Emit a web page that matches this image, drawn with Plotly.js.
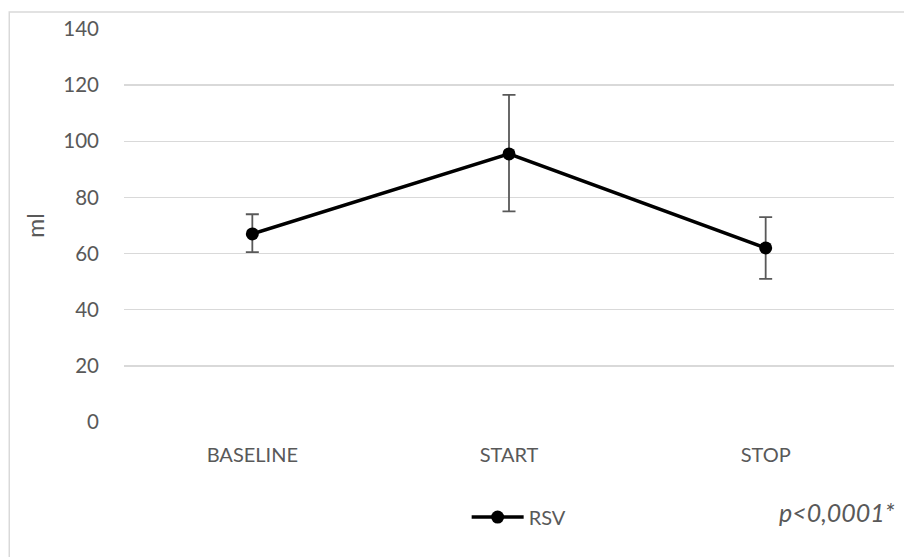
<!DOCTYPE html>
<html>
<head>
<meta charset="utf-8">
<script src="https://cdn.plot.ly/plotly-3.0.1.min.js"></script>
<style>
  html, body { margin: 0; padding: 0; background: #fff; }
  #chart { width: 904px; height: 557px; }
</style>
</head>
<body>
<div id="chart"></div>
<script>
// RSV volume (ml) at the three measurement points, mean with error range
const phases = ['BASELINE', 'START', 'STOP'];
const rsvMean = [67, 95.5, 62];
const rsvUpper = [74, 116.5, 73];
const rsvLower = [60.5, 75, 51];
const yTicks = [0, 20, 40, 60, 80, 100, 120, 140];

const errPlus = rsvMean.map((m, i) => rsvUpper[i] - m);
const errMinus = rsvMean.map((m, i) => m - rsvLower[i]);

const textColor = '#595959';
const gridColor = '#d9d9d9';
const fontFamily = 'Lato, "Open Sans", sans-serif';

const trace = {
  type: 'scatter',
  mode: 'lines+markers',
  name: 'RSV',
  x: phases,
  y: rsvMean,
  line: { color: '#000000', width: 3.5 },
  marker: { color: '#000000', size: 13 },
  error_y: {
    type: 'data',
    symmetric: false,
    array: errPlus,
    arrayminus: errMinus,
    color: '#595959',
    thickness: 1.8,
    width: 6.5
  }
};

const layout = {
  width: 904,
  height: 557,
  margin: { l: 124, r: 10, t: 29, b: 135 },
  paper_bgcolor: '#ffffff',
  plot_bgcolor: '#ffffff',
  font: { family: fontFamily, color: textColor, size: 20 },
  showlegend: true,
  legend: {
    orientation: 'h',
    x: 0.445,
    y: -0.242,
    xanchor: 'left',
    yanchor: 'middle',
    itemwidth: 52,
    font: { family: fontFamily, color: textColor, size: 20 },
    bgcolor: 'rgba(0,0,0,0)'
  },
  xaxis: {
    type: 'category',
    range: [-0.5, 2.5],
    showgrid: false,
    zeroline: false,
    showline: false,
    ticks: '',
    ticklabelstandoff: 19,
    tickfont: { family: fontFamily, color: textColor, size: 20 },
    fixedrange: true
  },
  yaxis: {
    range: [0, 140],
    tickvals: yTicks,
    ticktext: yTicks.map(String),
    showgrid: true,
    gridcolor: gridColor,
    gridwidth: 1.5,
    zeroline: false,
    showline: false,
    ticks: '',
    ticklabelstandoff: 24,
    tickfont: { family: fontFamily, color: textColor, size: 20.5 },
    title: {
      text: 'ml',
      standoff: 12,
      font: { family: fontFamily, color: textColor, size: 23 }
    },
    fixedrange: true
  },
  shapes: [
    // outer chart frame (left and top edges visible)
    {
      type: 'rect', xref: 'paper', yref: 'paper',
      x0: -0.149, x1: 1.05, y0: -0.40, y1: 1.043,
      line: { color: '#d9d9d9', width: 1.5 },
      fillcolor: 'rgba(0,0,0,0)',
      layer: 'below'
    }
  ],
  annotations: [
    {
      xref: 'paper', yref: 'paper',
      x: 1.004, y: -0.229,
      xanchor: 'right', yanchor: 'middle',
      text: '<i>p<0,0001*</i>',
      showarrow: false,
      font: { family: fontFamily, color: textColor, size: 25 }
    }
  ]
};

Plotly.newPlot('chart', [trace], layout, { displayModeBar: false, staticPlot: true });
</script>
</body>
</html>
